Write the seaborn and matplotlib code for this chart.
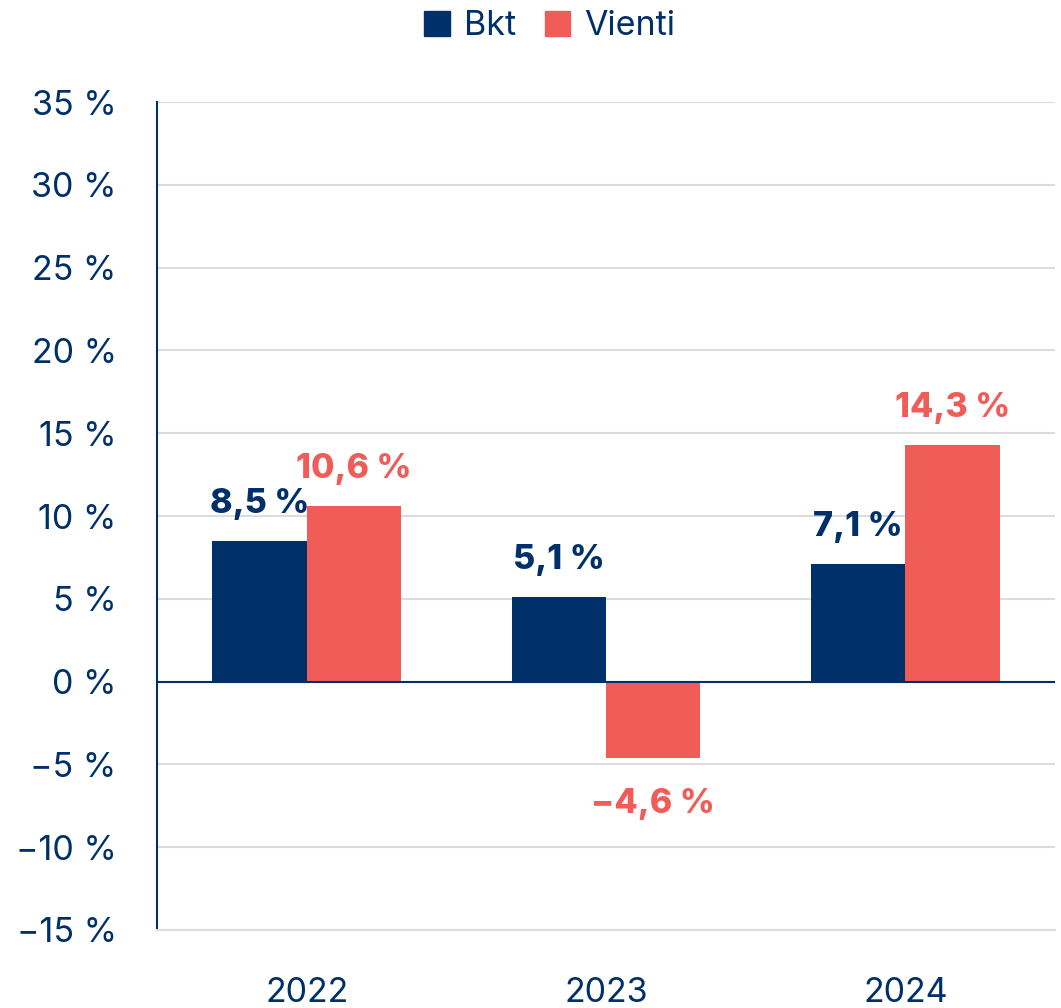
import pandas as pd
import matplotlib.pyplot as plt
import seaborn as sns
from matplotlib.patches import Patch

# Values
years = ["2022", "2023", "2024"]
bkt = [8.5, 5.1, 7.1]
vienti = [10.6, -4.6, 14.3]
series = ["Bkt", "Vienti"]
y_ticks = [-15, -10, -5, 0, 5, 10, 15, 20, 25, 30, 35]

NAVY = "#003069"
RED = "#F05D58"
GRID = "#DCDCDC"

df = pd.DataFrame({
    "year": years * 2,
    "series": [series[0]] * 3 + [series[1]] * 3,
    "value": bkt + vienti,
})

sns.set_theme(style="white")
plt.rcParams["font.family"] = ["Inter", "DejaVu Sans"]

fig = plt.figure(figsize=(10.61, 10.08), dpi=100)
ax = fig.add_axes([157 / 1061, 1 - 930 / 1008, (1055 - 157) / 1061, (930 - 102) / 1008])

sns.barplot(data=df, x="year", y="value", hue="series", order=years, hue_order=series,
            palette=[NAVY, RED], width=0.63, gap=0, saturation=1, legend=False,
            linewidth=0, ax=ax)

ax.set_xlim(-0.5, 2.5)
ax.set_ylim(-15, 35)
ax.set_yticks(y_ticks)
ax.set_yticklabels([f"{t} %".replace("-", "\u2212") for t in y_ticks])
ax.set_axisbelow(True)
ax.yaxis.grid(True, color=GRID, linewidth=1.5)
ax.axhline(0, color=NAVY, linewidth=1.5, zorder=3)
ax.tick_params(axis="both", length=0, labelsize=24.5, labelcolor=NAVY)
ax.tick_params(axis="y", pad=29)
ax.tick_params(axis="x", pad=34)
ax.set_xlabel("")
ax.set_ylabel("")

for s in ["top", "right"]:
    ax.spines[s].set_visible(False)
ax.spines["left"].set_color(NAVY)
ax.spines["left"].set_linewidth(1.5)
ax.spines["bottom"].set_color(GRID)
ax.spines["bottom"].set_linewidth(1.5)

# value labels
for container, color in zip(ax.containers, [NAVY, RED]):
    for bar in container:
        v = bar.get_height()
        x = bar.get_x() + bar.get_width() / 2
        txt = f"{v:.1f} %".replace(".", ",").replace("-", "\u2212")
        if v >= 0:
            ax.annotate(txt, (x, v), xytext=(0, 15), textcoords="offset points",
                        ha="center", va="bottom", fontsize=24.5, fontweight="heavy", color=color)
        else:
            ax.annotate(txt, (x, v), xytext=(0, -22), textcoords="offset points",
                        ha="center", va="top", fontsize=24.5, fontweight="heavy", color=color)

handles = [Patch(color=NAVY, label=series[0]), Patch(color=RED, label=series[1])]
fig.legend(handles=handles, loc="upper center", bbox_to_anchor=(0.518, 1.02), ncol=2,
           frameon=False, fontsize=24.5, handlelength=0.75, handleheight=0.75,
           handletextpad=0.4, columnspacing=0.85, labelcolor=NAVY)

fig.savefig("out.png", dpi=100)
